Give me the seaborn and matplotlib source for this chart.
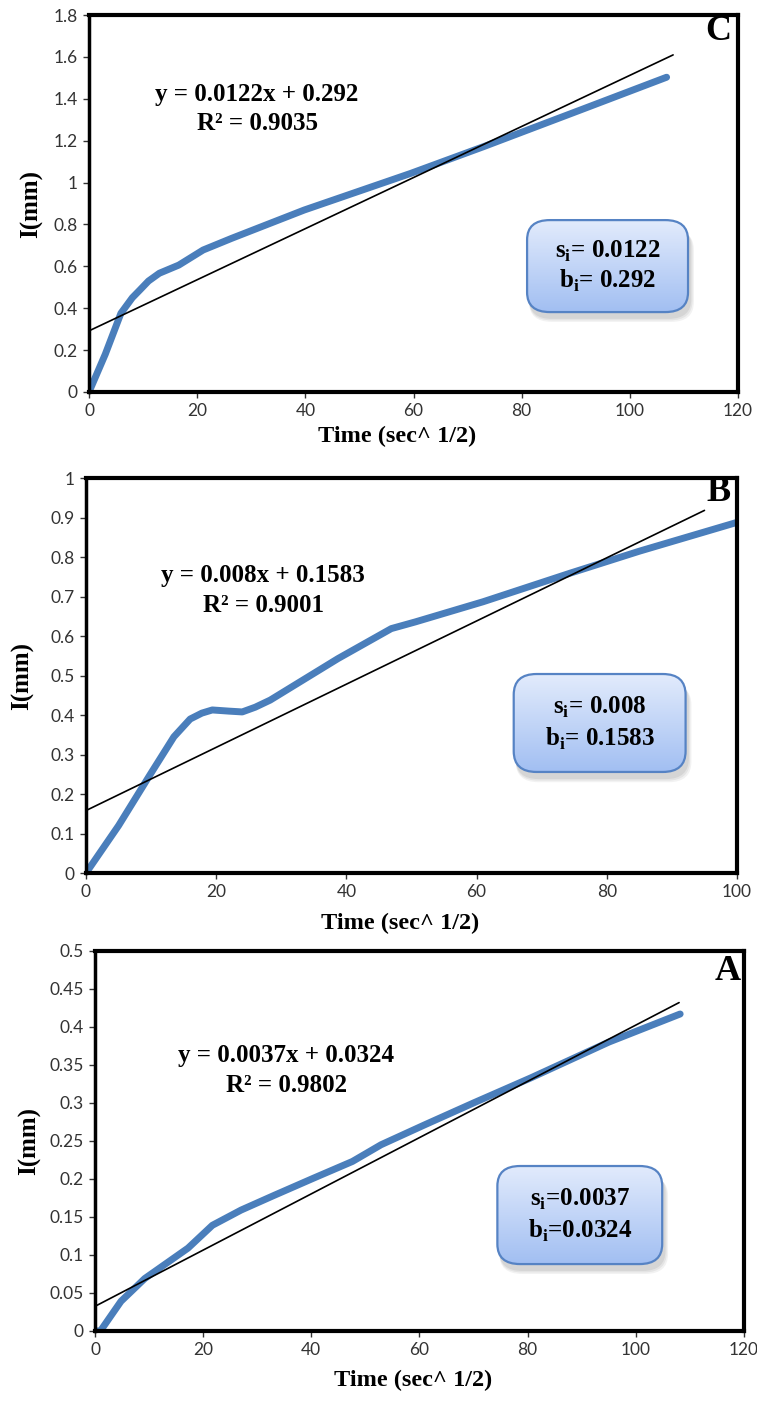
import numpy as np
import pandas as pd
import seaborn as sns
import matplotlib.pyplot as plt
from matplotlib.patches import FancyBboxPatch
from matplotlib.colors import LinearSegmentedColormap

# ---- data ----
c_time = [0, 3, 5.9, 8, 9.4, 11, 13, 16.6, 21.1, 26.4, 39.8, 59.5, 72.9, 90.7, 106.8]
c_len = [0, 0.18, 0.376, 0.45, 0.487, 0.53, 0.567, 0.606, 0.678, 0.734, 0.869, 1.044, 1.171, 1.345, 1.503]
c_fit = (0.0122, 0.292, 108)   # slope, intercept, last x

b_time = [0, 5, 9.8, 13.5, 16, 17.8, 19.4, 22, 24, 26, 28.3, 38.7, 46.9, 50.6, 61, 74.3, 85, 100]
b_len = [0, 0.12, 0.248, 0.345, 0.39, 0.405, 0.413, 0.41, 0.408, 0.42, 0.438, 0.543, 0.619, 0.636, 0.687, 0.759, 0.815, 0.888]
b_fit = (0.008, 0.1583, 95)

a_time = [0, 1, 4.8, 9.2, 13, 17.2, 21.7, 27, 33, 40.4, 47.6, 52.9, 60.9, 70, 80.6, 95, 108.2]
a_len = [0, 0.0, 0.039, 0.069, 0.088, 0.109, 0.139, 0.159, 0.178, 0.201, 0.223, 0.245, 0.271, 0.30, 0.333, 0.38, 0.417]
a_fit = (0.0037, 0.0324, 108)

panels = [
    dict(tag="C", x=c_time, y=c_len, fit=c_fit, xlim=120, ylim=1.8, ystep=0.2,
         eq="y = 0.0122x + 0.292", r2="R² = 0.9035", s="0.0122", b="0.292", sep="= ",
         pos=[0.1176, 0.7210, 0.8573, 0.2683], eqxy=(0.259, 0.788, 0.712),
         box=(0.675, 0.212, 0.248, 0.244), xlab=(0.475, -0.119), ylab=-0.088, tag_xy=(0.99, 1.0)),
    dict(tag="B", x=b_time, y=b_len, fit=b_fit, xlim=100, ylim=1.0, ystep=0.1,
         eq="y = 0.008x + 0.1583", r2="R² = 0.9001", s="0.008", b="0.1583", sep="= ",
         pos=[0.1136, 0.3786, 0.8600, 0.2811], eqxy=(0.272, 0.754, 0.678),
         box=(0.657, 0.256, 0.264, 0.248), xlab=(0.482, -0.127), ylab=-0.098, tag_xy=(0.99, 1.005)),
    dict(tag="A", x=a_time, y=a_len, fit=a_fit, xlim=120, ylim=0.5, ystep=0.05,
         eq="y = 0.0037x + 0.0324", r2="R² = 0.9802", s="0.0037", b="0.0324", sep="=",
         pos=[0.1255, 0.0527, 0.8573, 0.2705], eqxy=(0.295, 0.724, 0.645),
         box=(0.62, 0.176, 0.254, 0.258), xlab=(0.49, -0.129), ylab=-0.1015, tag_xy=(0.995, 0.99)),
]

sns.set_style("white")
plt.rcParams['font.family'] = ['Liberation Serif', 'DejaVu Serif']
plt.rcParams['mathtext.fontset'] = 'custom'
plt.rcParams['mathtext.rm'] = 'Liberation Serif'
plt.rcParams['mathtext.bf'] = 'Liberation Serif:bold'
plt.rcParams['text.color'] = 'black'
plt.rcParams['axes.labelcolor'] = 'black'

fig = plt.figure(figsize=(7.57, 14.05), dpi=100)
cmap = LinearSegmentedColormap.from_list("g", ["#a2bff2", "#e2ebfc"])

for p in panels:
    ax = fig.add_axes(p["pos"])
    df = pd.DataFrame({"Time": p["x"], "I": p["y"]})
    sns.lineplot(data=df, x="Time", y="I", ax=ax, color="#4a7ebb", lw=5,
                 solid_capstyle="round", solid_joinstyle="round", sort=True)
    slope, icpt, xend = p["fit"]
    fit_df = pd.DataFrame({"Time": [0, xend], "I": [icpt, icpt + slope * xend]})
    sns.lineplot(data=fit_df, x="Time", y="I", ax=ax, color="black", lw=1.2)

    ax.set_xlim(0, p["xlim"])
    ax.set_ylim(0, p["ylim"])
    ax.set_xticks(np.arange(0, p["xlim"] + 1, 20))
    yt = np.round(np.arange(0, p["ylim"] + 1e-9, p["ystep"]), 3)
    ax.set_yticks(yt)
    ax.set_yticklabels([f"{v:g}" for v in yt])
    ax.tick_params(labelsize=12.5, direction="out", length=4, width=1, pad=4,
                   bottom=True, left=True, colors="#333333")
    for lab in ax.get_xticklabels() + ax.get_yticklabels():
        lab.set_family("Lato")
    for s in ["top", "right", "bottom"]:
        ax.spines[s].set_linewidth(3)
        ax.spines[s].set_color("black")
    ax.spines["left"].set_linewidth(2.5)
    ax.spines["left"].set_color("black")

    ax.set_xlabel("Time (sec^ 1/2)", fontsize=17.5, fontweight="bold")
    ax.xaxis.label.set_va("center")
    ax.xaxis.set_label_coords(*p["xlab"])
    ax.set_ylabel("I(mm)", fontsize=18, fontweight="bold")
    ax.yaxis.label.set_va("center")
    ax.yaxis.set_label_coords(p["ylab"], 0.5)

    ax.text(p["tag_xy"][0], p["tag_xy"][1], p["tag"], transform=ax.transAxes, ha="right", va="top",
            fontsize=26, fontweight="bold")
    ex, ey1, ey2 = p["eqxy"]
    ax.text(ex, ey1, p["eq"], transform=ax.transAxes, ha="center", va="center",
            fontsize=18, fontweight="bold")
    ax.text(ex, ey2, p["r2"], transform=ax.transAxes, ha="center", va="center",
            fontsize=18, fontweight="bold")

    # rounded gradient box with soft shadow
    bx, by, bw, bh = p["box"]
    style = "round,pad=0,rounding_size=0.035"
    for k, a in enumerate([0.10, 0.12, 0.15]):
        off = 0.004 * (3 - k)
        sh = FancyBboxPatch((bx + 0.003, by - 0.014 - off), bw + off * 0.5, bh, boxstyle=style,
                            transform=ax.transAxes, facecolor="#808080", edgecolor="none",
                            alpha=a, zorder=4, mutation_aspect=1.5)
        ax.add_patch(sh)
    box = FancyBboxPatch((bx, by), bw, bh, boxstyle=style,
                         transform=ax.transAxes, facecolor="none", edgecolor="#5683c4",
                         lw=1.6, zorder=6, mutation_aspect=1.5)
    ax.add_patch(box)
    grad = np.linspace(0, 1, 100).reshape(-1, 1)
    im = ax.imshow(grad, extent=(bx, bx + bw, by, by + bh), transform=ax.transAxes,
                   cmap=cmap, aspect="auto", origin="lower", zorder=5)
    im.set_clip_path(box)
    ax.text(bx + bw / 2, by + bh * 0.66, r"$\mathbf{s}_\mathbf{i}$" + p["sep"] + p["s"],
            transform=ax.transAxes, ha="center", va="center", fontsize=18, fontweight="bold", zorder=7)
    ax.text(bx + bw / 2, by + bh * 0.34, r"$\mathbf{b}_\mathbf{i}$" + p["sep"] + p["b"],
            transform=ax.transAxes, ha="center", va="center", fontsize=18, fontweight="bold", zorder=7)
    ax.set_xlim(0, p["xlim"])
    ax.set_ylim(0, p["ylim"])

fig.savefig("out.png", dpi=100)
